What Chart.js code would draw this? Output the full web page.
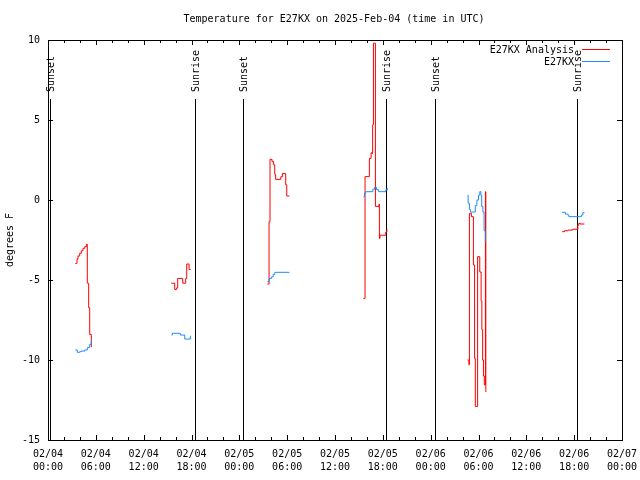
<!DOCTYPE html>
<html>
<head>
<meta charset="utf-8">
<script src="https://cdn.jsdelivr.net/npm/chart.js@4.4.0/dist/chart.umd.min.js"></script>
<style>
html, body { margin: 0; padding: 0; background: #fff; }
#wrap { width: 640px; height: 480px; }
</style>
</head>
<body>
<div id="wrap"><canvas id="chart" width="640" height="480"></canvas></div>
<script>
// hours after 2025-02-04 00:00 UTC, null temp = break in the trace
const analysisHours = [
  3.43, 3.64, 3.76, 3.98, 4.18, 4.39, 4.6, 4.81, 4.93, 5.1, 5.23, 5.43, 5.52, 10,
  15.47, 15.9, 16.1, 16.27, 16.9, 17.27, 17.4, 17.7, 17.9, 22,
  27.52, 27.73, 27.85, 28.1, 28.3, 28.44, 28.55, 29.2, 29.4, 29.82, 29.95, 30.28, 35,
  39.56, 39.77, 40.31, 40.53, 40.65, 40.72, 40.82, 41.07, 41.53, 41.57, 41.65, 42.37, 42.5, 42.57, 47,
  52.63, 52.8, 52.86, 53.11, 53.36, 53.51, 53.6, 53.89, 54.16, 54.33, 54.42, 54.52, 54.62, 54.73, 54.87, 54.92, 60,
  64.49, 64.78, 65.2, 65.83, 66.46, 66.59, 66.75, 67.29
];
const analysisTemps = [
  -3.96, -3.69, -3.5, -3.33, -3.17, -3.02, -2.92, -2.77, -5.2, -6.73, -8.4, -9.17, -9.17, null,
  -5.2, -5.6, -5.5, -4.9, -5.2, -4.9, -4.0, -4.35, -4.35, null,
  -5.25, -1.35, 2.54, 2.4, 2.2, 1.6, 1.29, 1.45, 1.65, 0.95, 0.25, 0.25, null,
  -6.15, 1.46, 2.6, 2.95, 2.9, 4.7, 9.8, -0.4, -0.25, -2.4, -2.2, -2.0, -1.85, -1.85, null,
  -10, -10.3, -0.83, -1.04, -4.06, -9.9, -12.9, -3.54, -4.5, -6.3, -8.1, -10, -11, -11.56, 0.52, -12, null,
  -1.98, -1.92, -1.88, -1.83, -1.56, -1.46, -1.5, -1.5
];

const stationHours = [
  3.43, 3.68, 3.98, 4.18, 4.6, 4.93, 5.23, 5.43, 5.52, 10,
  15.47, 15.6, 16.6, 17.15, 17.85, 17.9, 22,
  27.52, 27.73, 28.05, 28.25, 28.45, 30.2, 30.28, 35,
  39.56, 39.7, 39.85, 40.75, 40.95, 41.2, 41.45, 42.35, 42.55, 42.6, 47,
  52.63, 52.7, 52.86, 53.0, 53.6, 53.8, 54.0, 54.16, 54.3, 54.4, 54.55, 54.7, 54.85, 54.88, 60,
  64.49, 64.9, 65.2, 65.33, 66.9, 67.09, 67.29
];
const stationTemps = [
  -9.375, -9.52, -9.48, -9.44, -9.375, -9.23, -9.02, -8.81, -8.81, null,
  -8.44, -8.33, -8.44, -8.69, -8.5, -8.5, null,
  -5.1, -4.9, -4.8, -4.65, -4.52, -4.55, -4.55, null,
  0.2, 0.42, 0.52, 0.67, 0.79, 0.65, 0.52, 0.62, 0.75, 0.75, null,
  0.3, -0.2, -0.6, -0.75, -0.35, 0, 0.3, 0.52, 0.3, -0.4, -0.75, -1.9, -2.6, -2.6, null,
  -0.77, -0.88, -0.94, -1.04, -0.94, -0.79, -0.79
];

const sunHours = [0.25, 18.45, 24.47, 42.4, 48.6, 66.4];
const sunLabels = ["Sunset", "Sunrise", "Sunset", "Sunrise", "Sunset", "Sunrise"];

const xTickLabels = [
  ["02/04", "00:00"], ["02/04", "06:00"], ["02/04", "12:00"], ["02/04", "18:00"],
  ["02/05", "00:00"], ["02/05", "06:00"], ["02/05", "12:00"], ["02/05", "18:00"],
  ["02/06", "00:00"], ["02/06", "06:00"], ["02/06", "12:00"], ["02/06", "18:00"],
  ["02/07", "00:00"]
];
const yTickLabels = ["-15", "-10", "-5", "0", "5", "10"];

const MONO = "DejaVu Sans Mono";
const FONT = "10px " + MONO;
const RED = "#ff0000";
const BLUE = "#1e8cff";

const pts = (hs, ts) => hs.map((h, i) => ({ x: h, y: ts[i] }));

// frame, inward ticks, sunrise/sunset markers
const gnuFrame = {
  id: "gnuFrame",
  beforeDatasetsDraw(chart) {
    const { ctx, chartArea: a, scales: { x, y } } = chart;
    ctx.save();
    ctx.strokeStyle = "#000";
    ctx.lineWidth = 1;
    ctx.beginPath();
    for (let h = 0; h <= 72; h += 2) {
      const px = Math.round(x.getPixelForValue(h)) + 0.5;
      const len = h % 6 === 0 ? 5 : 3;
      ctx.moveTo(px, a.bottom); ctx.lineTo(px, a.bottom - len);
      ctx.moveTo(px, a.top); ctx.lineTo(px, a.top + len);
    }
    for (let v = -15; v <= 10; v += 5) {
      const py = Math.round(y.getPixelForValue(v)) + 0.5;
      ctx.moveTo(a.left, py); ctx.lineTo(a.left + 5, py);
      ctx.moveTo(a.right, py); ctx.lineTo(a.right - 5, py);
    }
    ctx.stroke();

    ctx.font = FONT;
    ctx.fillStyle = "#000";
    sunHours.forEach((h, i) => {
      const px = Math.round(x.getPixelForValue(h)) + 0.5;
      ctx.beginPath();
      ctx.moveTo(px, 99); ctx.lineTo(px, a.bottom);
      ctx.stroke();
      ctx.save();
      ctx.translate(px, 92);
      ctx.rotate(-Math.PI / 2);
      ctx.textAlign = "left";
      ctx.textBaseline = "middle";
      ctx.fillText(sunLabels[i], 0, 1);
      ctx.restore();
    });

    ctx.strokeRect(Math.round(a.left) + 0.5, Math.round(a.top) + 0.5,
      Math.round(a.right - a.left), Math.round(a.bottom - a.top));
    ctx.restore();
  },
  afterDraw(chart) {
    const { ctx, chartArea: a } = chart;
    ctx.save();
    ctx.font = FONT;
    ctx.fillStyle = "#000";
    ctx.textAlign = "center";
    ctx.textBaseline = "middle";
    ctx.fillText("Temperature for E27KX on 2025-Feb-04 (time in UTC)", 334, 19);

    ctx.save();
    ctx.translate(10, (a.top + a.bottom) / 2);
    ctx.rotate(-Math.PI / 2);
    ctx.fillText("degrees F", 0, 0);
    ctx.restore();

    // legend
    const rows = [["E27KX Analysis", RED, 50], ["E27KX", BLUE, 62]];
    ctx.textAlign = "right";
    rows.forEach(([label, col, yy]) => {
      ctx.fillStyle = "#000";
      ctx.fillText(label, 574, yy);
      ctx.fillStyle = col;
      ctx.fillRect(582, yy - 1, 28, 1);
    });
    ctx.restore();
  }
};

new Chart(document.getElementById("chart"), {
  type: "scatter",
  data: {
    datasets: [
      {
        label: "E27KX",
        data: pts(stationHours, stationTemps),
        showLine: true,
        stepped: true,
        spanGaps: false,
        borderColor: BLUE,
        borderWidth: 1,
        pointRadius: 0
      },
      {
        label: "E27KX Analysis",
        data: pts(analysisHours, analysisTemps),
        showLine: true,
        stepped: true,
        spanGaps: false,
        borderColor: RED,
        borderWidth: 1,
        pointRadius: 0
      }
    ]
  },
  options: {
    responsive: false,
    animation: false,
    devicePixelRatio: 1,
    layout: { padding: { top: 40, right: 18, left: 0, bottom: 0 } },
    plugins: {
      legend: { display: false },
      title: { display: false },
      tooltip: { enabled: false }
    },
    scales: {
      x: {
        type: "linear",
        min: 0,
        max: 72,
        grid: { display: false, drawTicks: false },
        border: { display: false },
        afterFit: s => { s.height = 40; s.paddingLeft = 0; s.paddingRight = 0; },
        ticks: {
          stepSize: 6,
          autoSkip: false,
          maxRotation: 0,
          padding: 8,
          color: "#000",
          font: { family: MONO, size: 10, lineHeight: 1.3 },
          callback: (v, i) => xTickLabels[i]
        }
      },
      y: {
        min: -15,
        max: 10,
        grid: { display: false, drawTicks: false },
        border: { display: false },
        afterFit: s => { s.width = 48; s.paddingTop = 0; s.paddingBottom = 0; },
        ticks: {
          stepSize: 5,
          autoSkip: false,
          padding: 8,
          color: "#000",
          font: { family: MONO, size: 10 },
          callback: (v, i) => yTickLabels[i]
        }
      }
    }
  },
  plugins: [gnuFrame]
});
</script>
</body>
</html>
